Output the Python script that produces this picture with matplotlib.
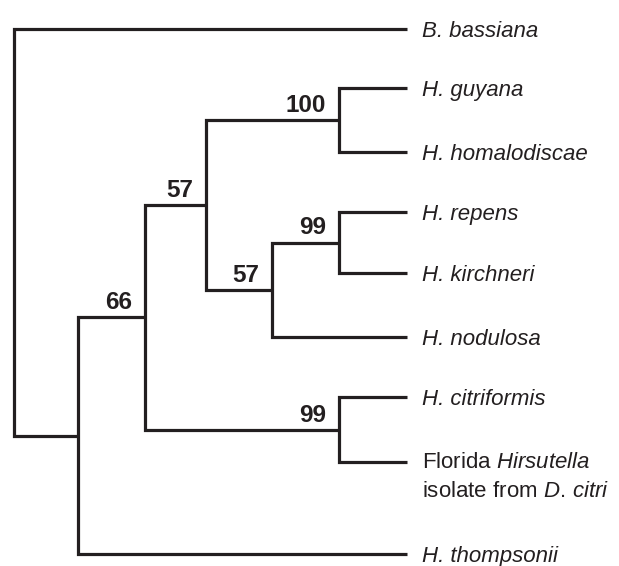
import matplotlib.pyplot as plt

plt.rcParams['font.family'] = ['Liberation Sans', 'DejaVu Sans']
plt.rcParams['mathtext.fontset'] = 'custom'
plt.rcParams['mathtext.rm'] = 'Liberation Sans'
plt.rcParams['mathtext.it'] = 'Liberation Sans:italic'
plt.rcParams['mathtext.bf'] = 'Liberation Sans:bold'

# leaves, top to bottom, and their row positions
leaves = ["B. bassiana", "H. guyana", "H. homalodiscae", "H. repens",
          "H. kirchneri", "H. nodulosa", "H. citriformis", "florida",
          "H. thompsonii"]
leaf_y = [29, 88, 152, 212, 273, 337, 397, 462, 554]
leaf_depth = 407

# internal nodes: name -> (depth, children)
clades = {
    "root": (14, ["B. bassiana", "n66"]),
    "n66": (78, ["n145", "H. thompsonii"]),
    "n145": (145, ["n206", "n339b"]),
    "n206": (206, ["n339a", "n272"]),
    "n339a": (339, ["H. guyana", "H. homalodiscae"]),
    "n272": (272, ["n339c", "H. nodulosa"]),
    "n339c": (339, ["H. repens", "H. kirchneri"]),
    "n339b": (339, ["H. citriformis", "florida"]),
}
# bootstrap support
support = {"n145": 66, "n206": 57, "n339a": 100, "n272": 57,
           "n339c": 99, "n339b": 99}

florida_lines = ["Florida $\\mathit{Hirsutella}$",
                 "isolate from $\\mathit{D.\\,citri}$"]

col = '#231f20'

pos = {}
for name, y in zip(leaves, leaf_y):
    pos[name] = (leaf_depth, y)


def place(name):
    if name in pos:
        return pos[name]
    depth, kids = clades[name]
    ys = [place(k)[1] for k in kids]
    pos[name] = (depth, sum(ys) / len(ys))
    return pos[name]


place("root")

fig = plt.figure(figsize=(6.19, 5.66), dpi=100)
ax = fig.add_axes([0, 0, 1, 1])
ax.set_xlim(0, 619)
ax.set_ylim(566, 0)
ax.axis('off')

for name, (depth, kids) in clades.items():
    (x1, y1), (x2, y2) = pos[kids[0]], pos[kids[1]]
    ax.plot([x1, depth, depth, x2], [y1, y1, y2, y2], color=col, lw=2.3,
            solid_joinstyle='miter', solid_capstyle='butt')
    if name in support:
        nx, ny = pos[name]
        ax.text(nx - 13, ny - 8, str(support[name]), ha='right',
                va='baseline', fontsize=17.5, fontweight='bold', color=col)

for name in leaves:
    x, y = pos[name]
    if name == "florida":
        for i, line in enumerate(florida_lines):
            ax.text(x + 15, y + 6 + 29 * i, line, ha='left', va='baseline',
                    fontsize=16, color=col)
    else:
        ax.text(x + 15, y, name, ha='left', va='center_baseline',
                fontsize=16, style='italic', color=col)

fig.savefig('out.png', dpi=100)
